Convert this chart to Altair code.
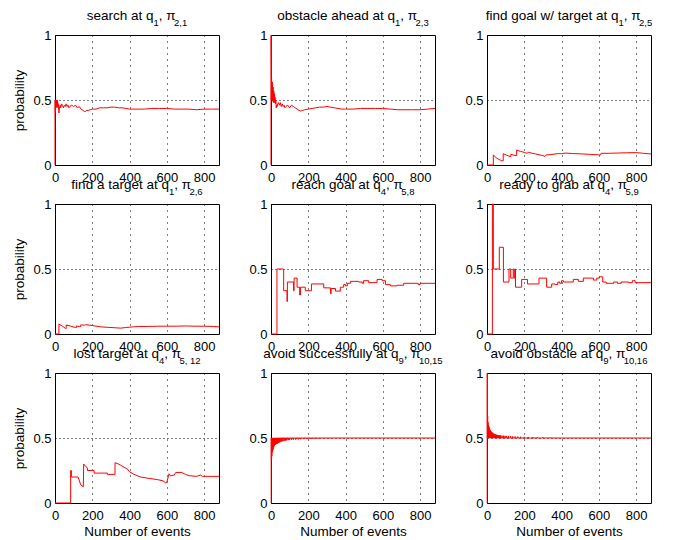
import altair as alt
import pandas as pd

# ---------------- data ----------------
title_main = [
    "search at q", "obstacle ahead at q", "find goal w/ target at q",
    "find a target at q", "reach goal at q", "ready to grab at q",
    "lost target at q", "avoid successfully at q", "avoid obstacle at q",
]
title_q_sub = ["1", "1", "1", "1", "4", "4", "4", "9", "9"]
title_pi_sub = ["2,1", "2,3", "2,5", "2,6", "5,8", "5,9", "5, 12", "10,15", "10,16"]

x_ticks = [0, 200, 400, 600, 800]
y_ticks = [0, 0.5, 1]

p1_x = [0, 0, 1, 2, 3, 4, 5, 6, 7, 8, 9, 10, 11, 12, 13, 14, 15, 16, 17, 18, 19, 20,
        21, 23, 25, 28, 31, 35,
        40, 45, 50, 55, 60, 65, 70, 75, 80,
        90, 100, 110, 120, 130, 140, 150, 160, 170, 180,
        200, 220, 240, 260, 280, 300, 320, 340, 360, 380, 400,
        440, 480, 520, 560, 600, 640, 680, 720, 760, 800, 840, 880]
p1_y = [0, 0.5, 0.5, 0.4, 0.5, 0.45, 0.5, 0.44, 0.5, 0.47, 0.5, 0.45, 0.5, 0.46, 0.5, 0.47, 0.48, 0.44, 0.47, 0.45, 0.46, 0.42,
        0.4, 0.43, 0.45, 0.46, 0.44, 0.47,
        0.46, 0.44, 0.46, 0.45, 0.47, 0.45, 0.46, 0.44, 0.45,
        0.46, 0.45, 0.46, 0.44, 0.45, 0.43, 0.42, 0.41, 0.42, 0.42,
        0.43, 0.43, 0.44, 0.44, 0.44, 0.445, 0.445, 0.44, 0.44, 0.435, 0.43,
        0.43, 0.43, 0.435, 0.435, 0.435, 0.43, 0.43, 0.43, 0.425, 0.43, 0.43, 0.43]

p2_x = [0, 0, 1, 2, 3, 4, 5, 6, 7, 8, 9, 10, 11, 12, 13, 14, 15, 16, 17, 18, 19, 20,
        22, 24, 26, 28, 30,
        33, 36, 40, 45, 50,
        55, 60, 65, 70, 75, 80,
        90, 100, 110, 120, 130, 140, 150, 160, 170, 180,
        200, 220, 240, 260, 280, 300, 320, 340, 360, 380, 400,
        440, 480, 520, 560, 600, 640, 680, 720, 760, 800, 840, 880]
p2_y = [0, 1, 1, 0.5, 0.67, 0.5, 0.6, 0.5, 0.64, 0.5, 0.58, 0.49, 0.6, 0.5, 0.55, 0.48, 0.57, 0.5, 0.55, 0.48, 0.54, 0.5,
        0.52, 0.47, 0.5, 0.44, 0.46,
        0.45, 0.47, 0.48, 0.46, 0.48,
        0.45, 0.47, 0.45, 0.46, 0.44, 0.45,
        0.46, 0.44, 0.46, 0.45, 0.44, 0.43, 0.42, 0.415, 0.42, 0.425,
        0.43, 0.435, 0.44, 0.445, 0.445, 0.45, 0.445, 0.44, 0.435, 0.43, 0.43,
        0.43, 0.435, 0.435, 0.435, 0.435, 0.43, 0.425, 0.425, 0.425, 0.425, 0.43, 0.435]

p3_x = [0, 34, 34, 50, 65, 79, 87, 87, 105, 124,
        128, 128, 145, 159, 159, 180, 200, 215, 222, 260,
        300, 311, 318, 340, 383, 400, 420, 460, 500, 550,
        600, 609, 612, 650, 700, 750, 800, 840, 880]
p3_y = [0, 0, 0.077, 0.055, 0.042, 0.033, 0.033, 0.087, 0.075, 0.065,
        0.065, 0.082, 0.075, 0.072, 0.115, 0.105, 0.097, 0.09, 0.097, 0.085,
        0.072, 0.066, 0.078, 0.08, 0.088, 0.087, 0.092, 0.088, 0.086, 0.082,
        0.078, 0.078, 0.09, 0.09, 0.092, 0.094, 0.095, 0.09, 0.085]

p4_x = [0, 21, 21, 40, 57, 60, 60, 85, 110, 115,
        115, 130, 138, 138, 160, 165, 200, 245, 300, 353,
        380, 420, 450, 500, 550, 600, 650, 700, 750, 800,
        850, 880]
p4_y = [0, 0, 0.077, 0.06, 0.042, 0.042, 0.07, 0.06, 0.05, 0.05,
        0.062, 0.058, 0.058, 0.07, 0.068, 0.072, 0.065, 0.055, 0.05, 0.045,
        0.05, 0.055, 0.058, 0.058, 0.06, 0.06, 0.06, 0.062, 0.06, 0.06,
        0.058, 0.055]

p5_x = [0, 32, 68, 86, 88, 121, 124, 140, 154, 158,
        184, 217, 283, 319, 323, 346, 372, 390, 400, 410,
        426, 470, 490, 497, 524, 569, 596, 614, 641, 676,
        712, 790, 800, 880]
p5_y = [0, 0.5, 0.333, 0.25, 0.4, 0.333, 0.43, 0.36, 0.3, 0.36,
        0.333, 0.385, 0.355, 0.31, 0.35, 0.33, 0.36, 0.38, 0.37, 0.39,
        0.405, 0.4, 0.39, 0.41, 0.395, 0.42, 0.41, 0.38, 0.37, 0.375,
        0.39, 0.38, 0.39, 0.39]

p6_x = [0, 29, 34, 66, 88, 118, 127, 141, 146, 150,
        153, 186, 217, 279, 320, 347, 365, 380, 390, 400,
        410, 463, 490, 517, 571, 589, 603, 621, 640, 680,
        700, 720, 760, 780, 795, 880]
p6_y = [0, 1, 0.5, 0.667, 0.4, 0.5, 0.43, 0.5, 0.43, 0.5,
        0.36, 0.42, 0.385, 0.43, 0.36, 0.385, 0.38, 0.4, 0.39, 0.41,
        0.4, 0.42, 0.405, 0.43, 0.415, 0.43, 0.44, 0.4, 0.39, 0.4,
        0.39, 0.4, 0.395, 0.41, 0.395, 0.395]

p7_x = [0, 84, 84, 88, 88, 124, 138, 152, 154, 165,
        174, 174, 210, 210, 281, 281, 322, 322, 340, 353,
        389, 400, 424, 460, 500, 550, 580, 594, 600, 612,
        620, 640, 648, 680, 700, 720, 760, 782, 790, 800,
        880]
p7_y = [0, 0, 0.25, 0.25, 0.2, 0.2, 0.14, 0.125, 0.3, 0.28,
        0.27, 0.25, 0.25, 0.23, 0.23, 0.22, 0.22, 0.31, 0.3, 0.29,
        0.26, 0.24, 0.22, 0.2, 0.19, 0.18, 0.17, 0.155, 0.16, 0.225,
        0.21, 0.215, 0.235, 0.235, 0.22, 0.21, 0.205, 0.215, 0.205, 0.205,
        0.205]

# panel 8: estimate alternates between 0.5 and a lower value (spikes)
p8_start_x = [0, 1]
p8_start_y = [0, 0.5]
p8_spike_x = [2, 4, 6, 8, 10, 12, 14, 16, 18, 20,
              23, 26, 29, 32, 36, 40, 44, 48, 53, 58,
              64, 70, 77, 84, 92, 100, 110, 120, 132, 145,
              160, 175, 190, 210, 230, 255, 280, 310]
p8_spike_y = [0.33, 0.36, 0.39, 0.4, 0.41, 0.42, 0.43, 0.44, 0.44, 0.45,
              0.45, 0.452, 0.455, 0.455, 0.46, 0.463, 0.466, 0.47, 0.472, 0.474,
              0.476, 0.478, 0.48, 0.482, 0.484, 0.486, 0.487, 0.488, 0.489, 0.49,
              0.491, 0.492, 0.493, 0.494, 0.495, 0.496, 0.497, 0.497]
p8_level = 0.5

# panel 9: estimate alternates between 0.5 and a higher value (spikes)
p9_start_x = [0, 1, 2]
p9_start_y = [0, 1, 0.5]
p9_spike_x = [3, 5, 7, 9, 11, 13, 15, 17, 19, 21,
              24, 27, 30, 33, 37, 41, 45, 50, 55, 60,
              66, 72, 80, 88, 96, 105, 115, 126, 138, 150,
              165, 180, 200, 220, 245, 270, 300, 340]
p9_spike_y = [0.67, 0.62, 0.6, 0.59, 0.58, 0.57, 0.56, 0.56, 0.55, 0.55,
              0.545, 0.54, 0.54, 0.535, 0.53, 0.53, 0.527, 0.525, 0.523, 0.522,
              0.52, 0.52, 0.518, 0.517, 0.516, 0.515, 0.514, 0.513, 0.512, 0.511,
              0.51, 0.509, 0.508, 0.507, 0.506, 0.505, 0.504, 0.503]
p9_level = 0.5
x_end = 880


def spikes(start_x, start_y, sx, sy, level):
    xs = list(start_x)
    ys = list(start_y)
    for a, b in zip(sx, sy):
        xs += [a, a + 1]
        ys += [b, level]
    xs.append(x_end)
    ys.append(level)
    return xs, ys


p8_x, p8_y = spikes(p8_start_x, p8_start_y, p8_spike_x, p8_spike_y, p8_level)
p9_x, p9_y = spikes(p9_start_x, p9_start_y, p9_spike_x, p9_spike_y, p9_level)

series = [
    (p1_x, p1_y, "linear"),
    (p2_x, p2_y, "linear"),
    (p3_x, p3_y, "linear"),
    (p4_x, p4_y, "linear"),
    (p5_x, p5_y, "step-after"),
    (p6_x, p6_y, "step-after"),
    (p7_x, p7_y, "linear"),
    (p8_x, p8_y, "step-after"),
    (p9_x, p9_y, "step-after"),
]

# ---------------- layout / style ----------------
FONT = "Liberation Sans"
W, H = 164, 130
MAIN_FS, SUB_FS = 13.5, 9.5
TITLE_BASE = -15.0   # main-text baseline, px above the plot top
SUB_DROP = 5.5       # subscript baseline drop

# Helvetica/Arial advance widths (1/1000 em) for laying out the subscripted titles
ADV = {' ': 278, ',': 278, '/': 278, 'a': 556, 'b': 556, 'c': 500, 'd': 556,
       'e': 556, 'f': 278, 'g': 556, 'h': 556, 'i': 222, 'j': 222, 'k': 500,
       'l': 222, 'm': 833, 'n': 556, 'o': 556, 'p': 556, 'q': 556, 'r': 333,
       's': 500, 't': 278, 'u': 556, 'v': 500, 'w': 722, 'x': 500, 'y': 500,
       'z': 500, 'π': 570}


def text_w(s, fs):
    return sum(ADV.get(ch, 556) for ch in s) * fs / 1000.0


def title_layers(i):
    segs = [(title_main[i], False), (title_q_sub[i], True),
            (", π", False), (title_pi_sub[i], True)]
    total = sum(text_w(s, SUB_FS if sub else MAIN_FS) for s, sub in segs)
    x0 = W / 2 - total / 2
    layers = []
    for s, sub in segs:
        fs = SUB_FS if sub else MAIN_FS
        y = TITLE_BASE + (SUB_DROP if sub else 0)
        layers.append(
            alt.Chart(pd.DataFrame({"t": [s]}))
            .mark_text(align="left", baseline="alphabetic", font=FONT,
                       fontSize=fs, color="black")
            .encode(text="t:N", x=alt.value(x0), y=alt.value(y))
        )
        x0 += text_w(s, fs)
    return layers


charts = []
for i, (xs, ys, interp) in enumerate(series):
    assert len(xs) == len(ys), (i, len(xs), len(ys))
    row, col = divmod(i, 3)
    df = pd.DataFrame({"x": xs, "y": ys, "order": range(len(xs))})
    x_enc = alt.X(
        "x:Q",
        scale=alt.Scale(domain=[0, 880], nice=False, zero=False),
        axis=alt.Axis(values=x_ticks, format="d"),
        title="Number of events" if row == 2 else None,
    )
    y_enc = alt.Y(
        "y:Q",
        scale=alt.Scale(domain=[0, 1], nice=False),
        axis=alt.Axis(values=y_ticks, format="~g"),
        title="probability" if col == 0 else None,
    )
    line = (
        alt.Chart(df)
        .mark_line(color="#ff0000", strokeWidth=1, interpolate=interp)
        .encode(x=x_enc, y=y_enc, order="order:Q")
    )
    charts.append(alt.layer(line, *title_layers(i)).properties(width=W, height=H))

chart = (
    alt.concat(*charts, columns=3, spacing={"row": 39, "column": 52}, bounds="flush")
    .properties(padding={"left": 4, "top": 0, "right": 5, "bottom": 2})
    .configure_view(stroke="black", strokeWidth=1)
    .configure_axis(
        domain=False,
        ticks=False,
        grid=True,
        gridColor="black",
        gridWidth=1,
        labelFont=FONT,
        labelFontSize=13,
        labelColor="black",
        labelFlush=False,
        labelOverlap=False,
        titleFont=FONT,
        titleFontSize=13.5,
        titleFontWeight="normal",
        titleColor="black",
    )
    .configure_axisX(gridDash=[1, 5], labelPadding=6, titlePadding=2)
    .configure_axisY(gridDash=[1, 3], labelPadding=4, titlePadding=6)
)

chart.save("out.html", embed_options={"renderer": "svg", "actions": False})
